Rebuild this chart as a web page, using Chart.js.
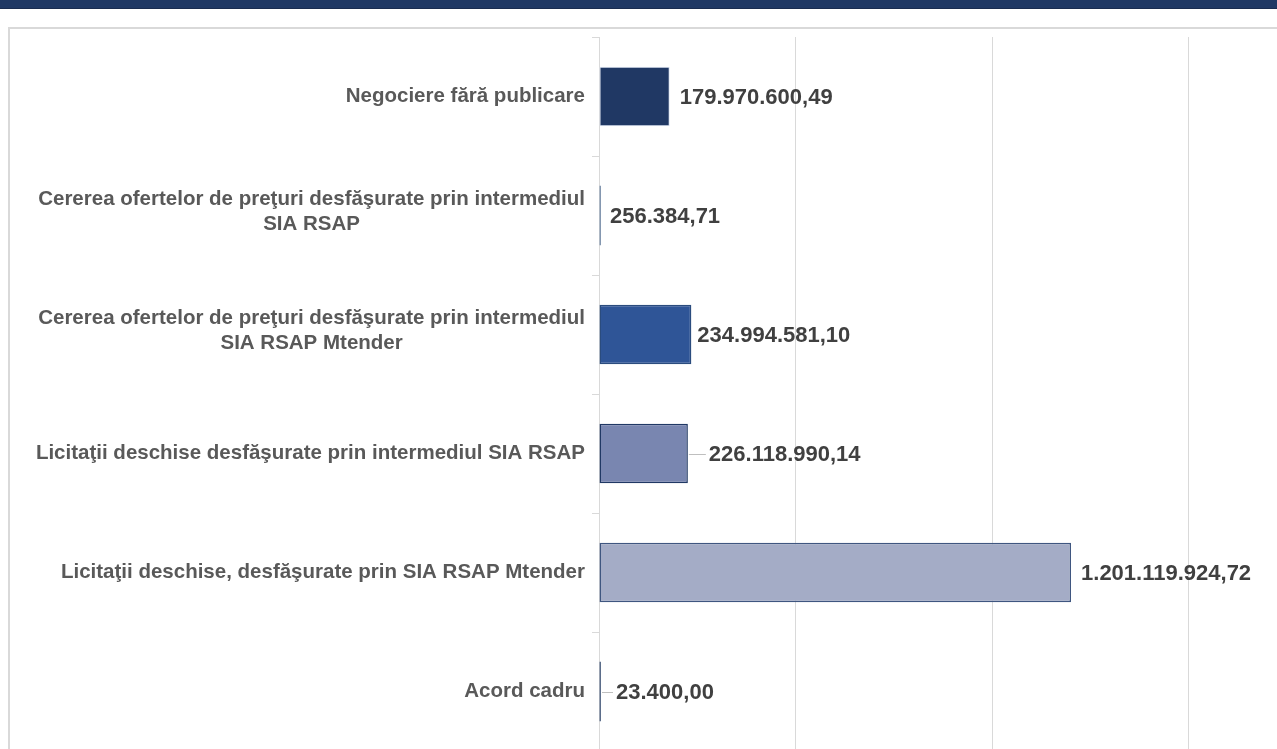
<!DOCTYPE html>
<html>
<head>
<meta charset="utf-8">
<script src="https://cdn.jsdelivr.net/npm/chart.js@4.4.1/dist/chart.umd.min.js"></script>
<style>
  html, body { margin: 0; padding: 0; background: #fff; overflow: hidden; }
  #band { position: absolute; left: 0; top: 0; width: 1277px; height: 8px; background: #203864; border-bottom: 1px solid #1a2c50; }
  #frame { position: absolute; left: 8px; top: 27px; width: 1500px; height: 900px; border: 2px solid #d9d9d9; }
  #wrap { position: absolute; left: 10px; top: 29px; width: 1390px; height: 760px; }
</style>
</head>
<body>
<div id="band"></div>
<div id="frame"></div>
<div id="wrap"><canvas id="chart"></canvas></div>
<script>
const categories = [
  ["Negociere fără publicare"],
  ["Cererea ofertelor de preţuri desfăşurate prin intermediul", "SIA RSAP"],
  ["Cererea ofertelor de preţuri desfăşurate prin intermediul", "SIA RSAP Mtender"],
  ["Licitaţii deschise desfăşurate prin intermediul SIA RSAP"],
  ["Licitaţii deschise, desfăşurate prin SIA RSAP Mtender"],
  ["Acord cadru"],
];
const values = [179970600.49, 256384.71, 234994581.10, 226118990.14, 1201119924.72, 23400.00];
const xTicks = [0, 500000000, 1000000000, 1500000000, 2000000000];

const fillColors = ["#203864", "#8497b0", "#2f5597", "#7986b0", "#a4acc6", "#5b6d8a"];
const edgeColors = ["#dae3f3", "#8497b0", "#2b4c7e", "#203864", "#3f5680", "#5b6d8a"];
const labelGap = [10, 9, 6, 21, 10, 15];
const leader = [false, false, false, true, false, true];

function fmtRo(v) {
  const [int, dec] = Number(v).toFixed(2).split(".");
  return `${int.replace(/\B(?=(\d{3})+(?!\d))/g, ".")},${dec}`;
}

const labelsPlugin = {
  id: "labels",
  afterDatasetsDraw(chart) {
    const ctx = chart.ctx;
    const y = chart.scales.y;
    const right = y.right - 14;

    ctx.save();
    // category labels: block right aligned, lines centred inside the block
    ctx.font = "bold 20.5px 'Liberation Sans', Arial, sans-serif";
    ctx.fillStyle = "#595959";
    ctx.textAlign = "center";
    ctx.textBaseline = "middle";
    categories.forEach((lines, i) => {
      const w = Math.max(...lines.map((l) => ctx.measureText(l).width));
      const cx = right - w / 2;
      const lh = 25;
      let ty = y.getPixelForTick(i) - ((lines.length - 1) * lh) / 2 - (lines.length > 1 ? 4 : 0);
      lines.forEach((l) => {
        ctx.fillText(l, cx, ty);
        ty += lh;
      });
    });

    // value labels
    ctx.font = "bold 22px 'Liberation Sans', Arial, sans-serif";
    ctx.fillStyle = "#404040";
    ctx.textAlign = "left";
    const meta = chart.getDatasetMeta(0);
    meta.data.forEach((bar, i) => {
      const x0 = bar.x + labelGap[i];
      if (leader[i]) {
        ctx.strokeStyle = "#bfbfbf";
        ctx.lineWidth = 1;
        ctx.beginPath();
        ctx.moveTo(bar.x + 1, Math.round(bar.y) + 0.5);
        ctx.lineTo(x0 - 3, Math.round(bar.y) + 0.5);
        ctx.stroke();
      }
      ctx.fillText(fmtRo(values[i]), x0, bar.y + 1);
    });
    ctx.restore();
  },
};

new Chart(document.getElementById("chart"), {
  type: "bar",
  data: {
    labels: categories,
    datasets: [{
      data: values,
      backgroundColor: fillColors,
      borderColor: edgeColors,
      borderWidth: [1, 0, 1.5, 1.5, 1.5, 0],
      borderSkipped: false,
      barPercentage: 0.5,
      categoryPercentage: 1,
      minBarLength: 2,
    }],
  },
  options: {
    indexAxis: "y",
    responsive: true,
    maintainAspectRatio: false,
    animation: false,
    layout: { padding: { top: 8, right: 15, bottom: 38, left: 0 } },
    plugins: { legend: { display: false }, tooltip: { enabled: false } },
    scales: {
      x: {
        min: xTicks[0],
        max: xTicks[xTicks.length - 1],
        afterBuildTicks: (s) => { s.ticks = xTicks.map((v) => ({ value: v })); },
        ticks: { display: false },
        grid: { color: "#d9d9d9", lineWidth: 1, drawTicks: false },
        border: { display: false },
      },
      y: {
        afterFit: (s) => { s.width = 589; },
        ticks: { display: false },
        grid: { offset: true, drawOnChartArea: false, tickLength: 7, color: "#d9d9d9" },
        border: { display: true, color: "#d9d9d9", width: 1 },
      },
    },
  },
  plugins: [labelsPlugin],
});
</script>
</body>
</html>
